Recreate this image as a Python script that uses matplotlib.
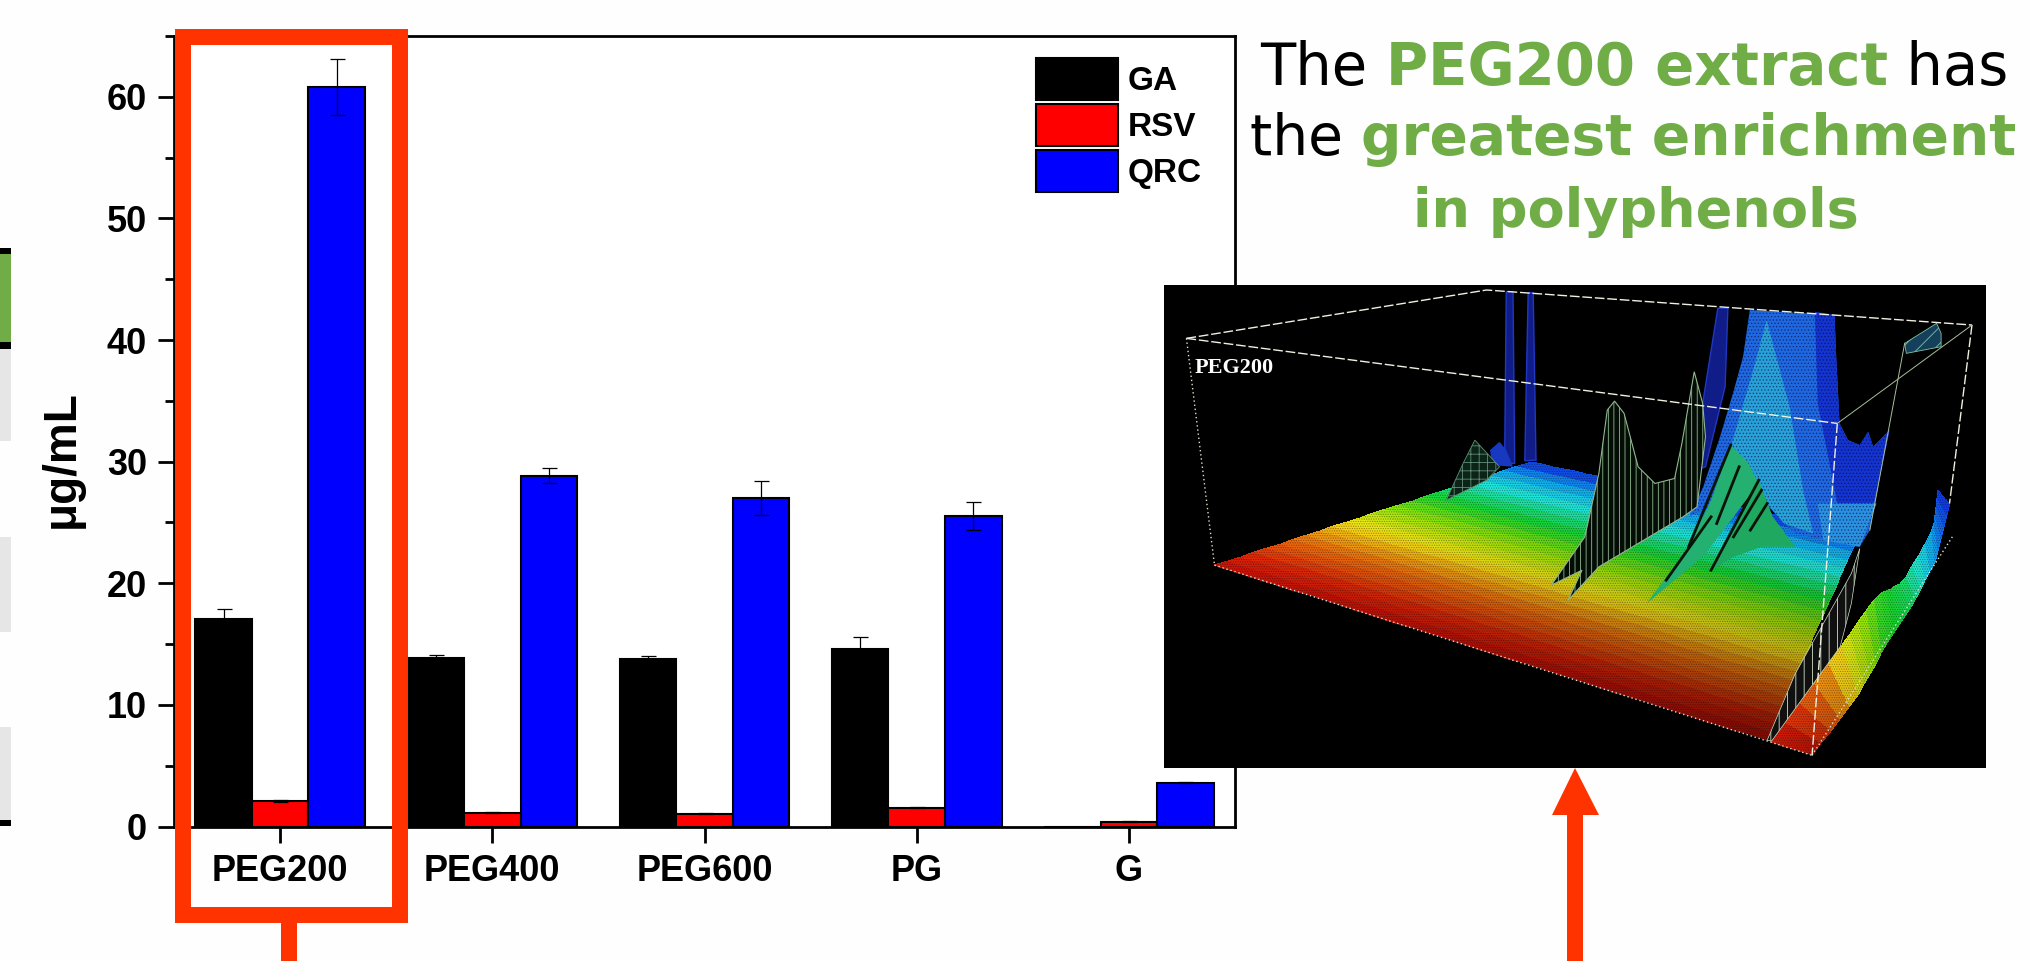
import matplotlib
matplotlib.use('Agg')
import matplotlib.pyplot as plt
import numpy as np
from matplotlib.colors import LinearSegmentedColormap
from matplotlib.patches import Polygon, Rectangle

plt.rcParams['font.family'] = ['Liberation Sans', 'DejaVu Sans']
plt.rcParams['font.weight'] = 'bold'
plt.rcParams['hatch.linewidth'] = 0.6

W, H = 2030, 961
ORANGE = '#FF3300'
GREEN = '#70AD47'

solvents = ['PEG200', 'PEG400', 'PEG600', 'PG', 'G']
ga = [17.05, 13.85, 13.8, 14.6, 0.0]
rsv = [2.1, 1.15, 1.05, 1.55, 0.4]
qrc = [60.8, 28.85, 27.0, 25.55, 3.6]
ga_err = [0.85, 0.25, 0.25, 1.0, 0.0]
rsv_err = [0.05, 0.05, 0.05, 0.05, 0.05]
qrc_err = [2.3, 0.6, 1.4, 1.15, 0.05]

# text of the note, one list of (text, colour, bold) per line
note_lines = [
    [('The ', 'black', False), ('PEG200 extract', GREEN, True), (' has', 'black', False)],
    [('the ', 'black', False), ('greatest enrichment', GREEN, True)],
    [('in polyphenols', GREEN, True)],
]
note_left = [1260, 1250, 1413]
note_base = [85, 155, 227]
note_size = [41.5, 40.8, 39]

# strip of the neighbouring table at the left edge (top, bottom, colour)
table_rows = [(248, 254, 'black'), (254, 342, GREEN), (342, 349, 'black'),
              (349, 441, '#e6e6e6'), (537, 632, '#e6e6e6'), (727, 820, '#e6e6e6'),
              (820, 826, 'black')]

# colour bands of the 3D surface, front (0) to back (1)
band_pos = [0, 0.1, 0.28, 0.42, 0.55, 0.68, 0.82, 0.92, 1]
band_col = ['#c81008', '#e02808', '#f08010', '#f8e818', '#98e808', '#18d830', '#20e8e0', '#10a0f0', '#1030e0']

floor_left = [(115, 885), (680, 575)]
floor_right = [(1100, 1410), (1265, 790)]
strip_left = [(1105, 1415), (1230, 1130), (1300, 970), (1340, 940), (1395, 780), (1405, 660)]
strip_right = [(1180, 1455), (1260, 1280), (1310, 1130), (1360, 1000), (1400, 870), (1425, 700)]
strip_bands = [0, 0.42, 0.65, 0.72, 0.92, 1]

mountain = [(1069, 120), (1220, 135), (1223, 260), (1229, 460), (1244, 510), (1265, 525), (1280, 485),
            (1289, 530), (1318, 480), (1301, 620), (1283, 780), (1265, 830), (1150, 790), (1060, 640), (962, 740),
            (986, 650), (1016, 500), (1039, 370), (1057, 260)]
mountain_dark = [(1185, 125), (1220, 135), (1223, 260), (1229, 460), (1244, 510), (1265, 525), (1280, 485),
                 (1289, 530), (1318, 480), (1301, 620), (1290, 700), (1225, 700), (1190, 400)]
mountain_cyan = [(1099, 150), (1140, 410), (1164, 660), (1182, 790), (1130, 760), (1060, 620), (1030, 560), (1075, 300)]
mountain_low = [(1190, 700), (1295, 700), (1265, 830), (1200, 810)]
spike_a = [(635, 65), (647, 65), (650, 580), (632, 580)]
spike_b = [(674, 68), (683, 68), (688, 570), (668, 572)]
spike_c = [(985, 400), (1012, 115), (1030, 115), (1025, 350), (990, 590), (975, 600)]
bump = [(606, 540), (623, 515), (635, 540), (647, 590), (610, 585)]
big_peak = [(715, 945), (775, 800), (800, 610), (815, 420), (828, 393), (845, 430), (870, 590), (900, 640),
            (935, 625), (948, 520), (970, 305), (985, 400), (990, 500), (975, 710), (950, 740), (800, 890),
            (745, 990), (770, 900)]
small_peak = [(528, 690), (558, 580), (579, 510), (623, 590), (600, 630)]
ridge_a = [(885, 1000), (960, 830), (1000, 690), (1035, 525), (1065, 575), (1085, 640), (1040, 740), (985, 860)]
ridge_b = [(1000, 900), (1050, 750), (1085, 630), (1110, 740), (1150, 830), (1090, 830), (1040, 860)]
ridge_streaks = [[(960, 830), (1035, 525)], [(1000, 900), (1085, 630)], [(1040, 800), (1090, 660)],
                 [(920, 930), (1000, 740)], [(1010, 760), (1050, 590)], [(1070, 780), (1100, 700)]]
corner_bit = [(1345, 220), (1402, 160), (1410, 190), (1410, 230), (1348, 250)]
gap = [(1100, 1410), (1150, 1210), (1250, 910), (1265, 835), (1250, 1000), (1230, 1130), (1108, 1412)]

box_dashed = [[(65, 205), (600, 60), (1465, 165)], [(65, 205), (1225, 460)],
              [(1465, 165), (1425, 700)], [(1225, 460), (1180, 1455)]]
box_dotted = [[(65, 205), (115, 885)], [(115, 885), (1180, 1455)], [(1180, 1455), (1430, 800)]]
box_thin = [[(1225, 460), (1465, 165)], [(1345, 220), (1283, 780)]]


def px_axes(x0, y0, x1, y1):
    return fig.add_axes([x0 / W, 1 - y1 / H, (x1 - x0) / W, (y1 - y0) / H])


def resample(points, n):
    pts = np.array(points, dtype=float)
    t = np.linspace(0, 1, len(pts))
    s = np.linspace(0, 1, n)
    return np.interp(s, t, pts[:, 0]), np.interp(s, t, pts[:, 1])


def draw_mesh(ax, edge_a, edge_b, bands=None, shade=0.0, steps=24, cols=30):
    # two edges running the same way, coloured in bands along them
    xa, ya = resample(edge_a, steps + 1)
    xb, yb = resample(edge_b, steps + 1)
    u = np.linspace(0, 1, cols + 1)
    X = np.outer(xa, 1 - u) + np.outer(xb, u)
    Y = np.outer(ya, 1 - u) + np.outer(yb, u)
    v = (np.arange(steps) + 0.5) / steps
    if bands is not None:
        v = np.interp(v, np.linspace(0, 1, len(bands)), bands)
    um = (u[:-1] + u[1:]) / 2
    rgb = surface_cmap(v)[:, :3]
    # darker towards the far end of the front edge
    dim = 1 - shade * np.outer(1 - v, um)
    C = rgb[:, None, :] * dim[:, :, None]
    ax.pcolormesh(X, Y, C, shading='flat', zorder=3)
    outline = list(zip(xa, ya)) + list(zip(xb[::-1], yb[::-1]))
    ax.add_patch(Polygon(outline, fill=False, lw=0, hatch='.......', edgecolor=(0, 0, 0, 0.35), zorder=3.1))


def add_lines(ax, lines, **kw):
    for line in lines:
        pts = np.array(line)
        ax.plot(pts[:, 0], pts[:, 1], **kw)


fig = plt.figure(figsize=(W / 100, H / 100), dpi=100, facecolor='#fefefe')

# bar chart
ax = px_axes(174, 36, 1235, 826.5)
ax.set_facecolor('white')
x = np.arange(len(solvents))
bw = 0.2665
err_kw = dict(ecolor='black', elinewidth=0.9, capsize=5.4, capthick=0.9)
ax.bar(x - bw, ga, bw, yerr=ga_err, color='black', edgecolor='black', linewidth=1.5, label='GA', error_kw=err_kw)
ax.bar(x, rsv, bw, yerr=rsv_err, color='#ff0000', edgecolor='black', linewidth=1.5, label='RSV', error_kw=err_kw)
ax.bar(x + bw, qrc, bw, yerr=qrc_err, color='#0000ff', edgecolor='black', linewidth=1.5, label='QRC', error_kw=err_kw)
ax.set_xlim(-0.5, 4.5)
ax.set_ylim(0, 65)
ax.set_xticks(x)
ax.set_xticklabels(solvents)
ax.set_yticks(np.arange(0, 61, 10))
ax.set_yticks(np.arange(5, 66, 10), minor=True)
ax.tick_params(axis='both', which='major', length=11.5, width=2, labelsize=26, pad=8)
ax.tick_params(axis='y', which='minor', length=6.5, width=2)
for s in ax.spines.values():
    s.set_linewidth(2)
ax.legend(loc='upper left', bbox_to_anchor=((1036 - 174) / 1061, 1 - (58 - 36) / 790.5), frameon=False,
          fontsize=24, handlelength=2.46, handleheight=1.56, labelspacing=0.12, handletextpad=0.3,
          borderpad=0, borderaxespad=0)
fig.text(62 / W, 1 - 459 / H, 'μg/mL', rotation=90, ha='center', va='center', fontsize=33)

# 3D surface picture, axes in its own picture units
surface_cmap = LinearSegmentedColormap.from_list('surface', list(zip(band_pos, band_col)))
inset = px_axes(1164, 285, 1986, 768)
inset.set_facecolor('black')
for spike in (spike_a, spike_b, spike_c):
    inset.add_patch(Polygon(spike, facecolor='#101c88', edgecolor='#2038c0', lw=1, zorder=2))
inset.add_patch(Polygon(bump, facecolor='#1838c0', lw=0, zorder=2))
inset.add_patch(Polygon(corner_bit, facecolor='#14405c', edgecolor='#80c0a8', lw=0.6, hatch='//', zorder=2))

draw_mesh(inset, floor_left, floor_right, shade=0.4)
draw_mesh(inset, strip_left, strip_right, bands=strip_bands, shade=0.2)

inset.add_patch(Polygon(mountain, facecolor='#1f68e0', edgecolor='none', zorder=3.2))
inset.add_patch(Polygon(mountain_dark, facecolor='#1434d0', edgecolor='none', zorder=3.3))
inset.add_patch(Polygon(mountain_cyan, facecolor='#28a0d8', edgecolor='none', zorder=3.4))
inset.add_patch(Polygon(mountain_low, facecolor='#2a90e0', edgecolor='none', zorder=3.4))
inset.add_patch(Polygon(mountain, fill=False, lw=0, hatch='.....', edgecolor=(0, 0, 0.2, 0.5), zorder=3.45))

inset.add_patch(Polygon(gap, facecolor='#101010', edgecolor='#d0e0c8', lw=0.5, hatch='||', zorder=3.5))
inset.add_patch(Polygon(ridge_b, facecolor='#1fa860', edgecolor='none', hatch='////', zorder=3.55))
inset.add_patch(Polygon(ridge_a, facecolor='#24b070', edgecolor='none', hatch='////', zorder=3.6))
add_lines(inset, ridge_streaks, color='#081408', lw=2, zorder=3.7)
inset.add_patch(Polygon(big_peak, facecolor='#040c06', edgecolor='#90b890', lw=0.8, hatch='|||', zorder=3.8))
inset.add_patch(Polygon(small_peak, facecolor='#0c2418', edgecolor='#608f78', lw=0.6, hatch='++', zorder=3.8))

add_lines(inset, box_dashed, color='#f0f0e0', lw=1.0, ls=(0, (7, 2)), zorder=5)
add_lines(inset, box_dotted, color='#e0e0d0', lw=1, ls=(0, (1, 2)), zorder=5)
add_lines(inset, box_thin, color='#a8c098', lw=0.7, zorder=5)
inset.text(80, 295, 'PEG200', color='white', family='Liberation Serif', fontsize=16, va='center', zorder=6)

inset.set_xlim(25, 1490)
inset.set_ylim(1493, 45)
inset.set_xticks([])
inset.set_yticks([])
for s in inset.spines.values():
    s.set_visible(False)

# overlay in figure pixels: orange marks, note text, table strip
over = fig.add_axes([0, 0, 1, 1], facecolor='none')
over.set_xlim(0, W)
over.set_ylim(H, 0)
over.axis('off')

for top, bottom, col in table_rows:
    over.add_patch(Rectangle((0, top), 11, bottom - top, facecolor=col, edgecolor='none'))

over.add_patch(Rectangle((183, 37), 217.5, 877.5, fill=False, edgecolor=ORANGE, lw=11.5, joinstyle='miter'))
over.add_patch(Rectangle((281, 922), 16, H - 922, facecolor=ORANGE, edgecolor='none'))
over.add_patch(Polygon([(1575, 768), (1552, 815), (1599, 815)], facecolor=ORANGE, edgecolor='none'))
over.add_patch(Rectangle((1567, 815), 16, H - 815, facecolor=ORANGE, edgecolor='none'))

renderer = fig.canvas.get_renderer()
for runs, left, base, size in zip(note_lines, note_left, note_base, note_size):
    pos = left
    for txt, col, bold in runs:
        t = over.text(pos, base, txt, color=col, fontsize=size, family='DejaVu Sans',
                      fontweight='bold' if bold else 'normal', va='baseline', ha='left')
        pos += t.get_window_extent(renderer).width

fig.savefig('out.png', dpi=100, facecolor=fig.get_facecolor())
